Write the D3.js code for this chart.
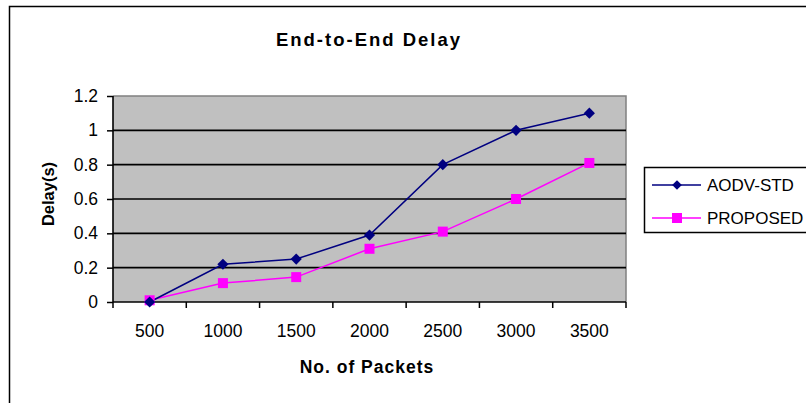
<!DOCTYPE html>
<html>
<head>
<meta charset="utf-8">
<script src="https://cdn.jsdelivr.net/npm/d3@7"></script>
<style>
body{margin:0;background:#fff}
svg{display:block;font-family:"Liberation Sans",Arial,sans-serif}
</style>
</head>
<body>
<svg></svg>
<script>
var packets=["500","1000","1500","2000","2500","3000","3500"]
var aodv=[0,0.22,0.25,0.39,0.8,1.0,1.1]
var proposed=[0.01,0.11,0.145,0.31,0.41,0.6,0.81]
var yTicks=[0,0.2,0.4,0.6,0.8,1,1.2]
var seriesNames=["AODV-STD","PROPOSED"]

var svg=d3.select("svg").attr("width",806).attr("height",403)

var x=d3.scaleBand().domain(packets).range([113,626])
var y=d3.scaleLinear().domain([0,1.2]).range([302,96])

// outer chart frame
svg.append("rect")
  .attr("x",9.5).attr("y",6.5).attr("width",900).attr("height",500)
  .attr("fill","none").attr("stroke","#000").attr("stroke-width",1.5)

// plot area
svg.append("rect")
  .attr("x",113).attr("y",y(1.2)).attr("width",626-113).attr("height",y(0)-y(1.2))
  .attr("fill","#c0c0c0")
svg.append("path")
  .attr("d","M113,"+y(1.2)+"H626V"+y(0))
  .attr("fill","none").attr("stroke","#808080").attr("stroke-width",1.5)

// gridlines
svg.selectAll("line.grid")
  .data(yTicks.filter(d=>d>0 && d<1.2))
  .enter().append("line")
  .attr("x1",113).attr("x2",626)
  .attr("y1",d=>y(d)).attr("y2",d=>y(d))
  .attr("stroke","#000").attr("stroke-width",1.6)

// y axis
var yAxis=svg.append("g").attr("transform","translate(113,0)")
  .call(d3.axisLeft(y).tickValues(yTicks).tickSize(6).tickPadding(9).tickFormat(d3.format("")))
yAxis.select(".domain").attr("stroke-width",1.6).attr("d","M0,"+y(1.2)+"V"+y(0))
yAxis.selectAll(".tick line").attr("stroke-width",1.5)
yAxis.selectAll("text").style("font-size","17.5px").attr("fill","#000")

// x axis: labels at band centres, ticks at band edges
var xAxis=svg.append("g").attr("transform","translate(0,"+y(0)+")")
  .call(d3.axisBottom(x).tickSize(0).tickPadding(23))
xAxis.select(".domain").attr("stroke-width",1.6).attr("d","M113,0H626")
xAxis.selectAll("text").style("font-size","17.5px").attr("fill","#000")
var edges=packets.map(d=>x(d)).concat([x.range()[1]])
xAxis.selectAll("line.edge").data(edges).enter().append("line")
  .attr("x1",d=>d).attr("x2",d=>d).attr("y1",0).attr("y2",6)
  .attr("stroke","#000").attr("stroke-width",1.5)

var cx=d=>x(d)+x.bandwidth()/2

// series
var line=d3.line().x((d,i)=>cx(packets[i])).y(d=>y(d))
svg.append("path").datum(proposed).attr("d",line)
  .attr("fill","none").attr("stroke","#ff00ff").attr("stroke-width",1.5)
svg.append("path").datum(aodv).attr("d",line)
  .attr("fill","none").attr("stroke","#000080").attr("stroke-width",1.5)

var diamond=d3.symbol().type(d3.symbolDiamond2).size(80)
svg.selectAll("path.sq").data(proposed).enter().append("rect")
  .attr("x",(d,i)=>cx(packets[i])-5).attr("y",d=>y(d)-5)
  .attr("width",10).attr("height",10).attr("fill","#ff00ff")
svg.selectAll("path.dm").data(aodv).enter().append("path")
  .attr("d",diamond)
  .attr("transform",(d,i)=>"translate("+cx(packets[i])+","+y(d)+")")
  .attr("fill","#000080")

// titles
svg.append("text").text("End-to-End Delay")
  .attr("x",369).attr("y",46).attr("text-anchor","middle")
  .style("font-size","18.5px").style("font-weight","bold").style("letter-spacing","2px")
svg.append("text").text("No. of Packets")
  .attr("x",367).attr("y",373).attr("text-anchor","middle")
  .style("font-size","17.5px").style("font-weight","bold").style("letter-spacing","1px")
svg.append("text").text("Delay(s)")
  .attr("transform","translate(54,194) rotate(-90)").attr("text-anchor","middle")
  .style("font-size","16.5px").style("font-weight","bold")

// legend
var legend=svg.append("g")
legend.append("rect").attr("x",644.5).attr("y",167.5).attr("width",300).attr("height",65)
  .attr("fill","#fff").attr("stroke","#000").attr("stroke-width",1.5)
var colors=["#000080","#ff00ff"]
var rows=legend.selectAll("g.row").data(seriesNames).enter().append("g")
  .attr("transform",(d,i)=>"translate(0,"+(185+i*33)+")")
rows.append("line").attr("x1",652).attr("x2",701).attr("y1",0).attr("y2",0)
  .attr("stroke",(d,i)=>colors[i]).attr("stroke-width",1.5)
rows.filter((d,i)=>i==0).append("path")
  .attr("d",d3.symbol().type(d3.symbolDiamond2).size(60))
  .attr("transform","translate(677,0)").attr("fill",colors[0])
rows.filter((d,i)=>i==1).append("rect")
  .attr("x",672).attr("y",-5).attr("width",10).attr("height",10).attr("fill",colors[1])
rows.append("text").text(d=>d).attr("x",707).attr("y",6)
  .style("font-size","17px")
</script>
</body>
</html>
